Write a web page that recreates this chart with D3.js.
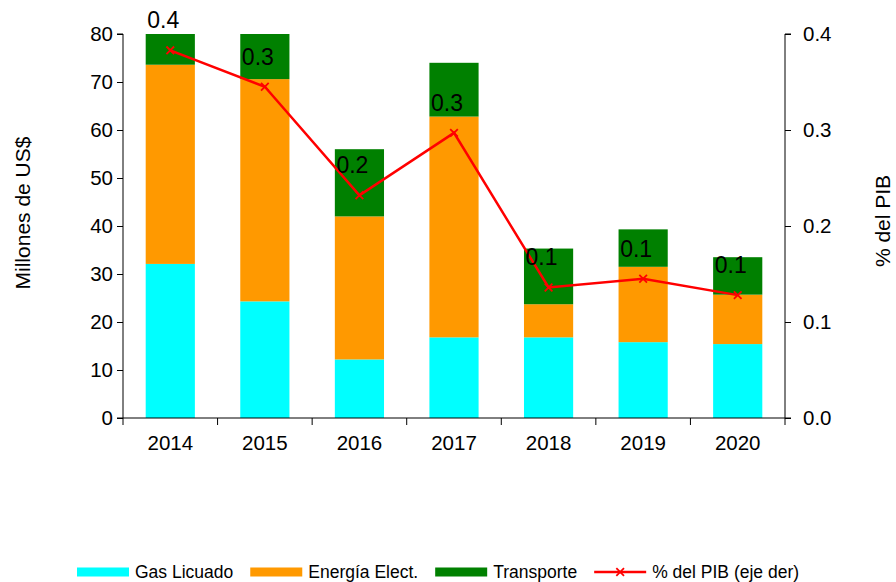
<!DOCTYPE html>
<html>
<head>
<meta charset="utf-8">
<script src="https://cdn.jsdelivr.net/npm/d3@7"></script>
<style>
  body { margin: 0; background: #fff; }
  svg text { font-family: "Liberation Sans", Arial, sans-serif; fill: #000; }
</style>
</head>
<body>
<div id="chart"></div>
<script>
// data
var years = ["2014", "2015", "2016", "2017", "2018", "2019", "2020"];
var gasLicuado = [32.1, 24.3, 12.2, 16.8, 16.8, 15.8, 15.4];
var energiaElect = [41.5, 46.3, 29.8, 46.0, 6.9, 15.7, 10.3];
var transporte = [6.4, 9.4, 14.0, 11.2, 11.6, 7.8, 7.8];
var pibPct = [0.383, 0.345, 0.232, 0.297, 0.136, 0.145, 0.128];
var pibLabels = ["0.4", "0.3", "0.2", "0.3", "0.1", "0.1", "0.1"];
var leftTicks = [0, 10, 20, 30, 40, 50, 60, 70, 80];
var rightTicks = [0, 0.1, 0.2, 0.3, 0.4];

var seriesNames = ["Gas Licuado", "Energía Elect.", "Transporte"];
var seriesColors = ["#00FFFF", "#FF9900", "#008000"];
var lineColor = "#FF0000";

var width = 896, height = 582;
var plot = {left: 123, right: 785, top: 34, bottom: 418};

var svg = d3.select("#chart").append("svg")
  .attr("width", width)
  .attr("height", height);

var x = d3.scaleBand()
  .domain(years)
  .range([plot.left, plot.right])
  .paddingInner(0.48)
  .paddingOuter(0.24);

var y = d3.scaleLinear().domain([0, 80]).range([plot.bottom, plot.top]);
var y2 = d3.scaleLinear().domain([0, 0.4]).range([plot.bottom, plot.top]);

// build rows for the stack
var rows = years.map(function(yr, i) {
  return {year: yr, "Gas Licuado": gasLicuado[i], "Energía Elect.": energiaElect[i], "Transporte": transporte[i]};
});
var stacked = d3.stack().keys(seriesNames)(rows);

svg.append("g").selectAll("g")
  .data(stacked)
  .enter().append("g")
    .attr("fill", function(d, i) { return seriesColors[i]; })
  .selectAll("rect")
  .data(function(d) { return d; })
  .enter().append("rect")
    .attr("x", function(d) { return x(d.data.year); })
    .attr("width", x.bandwidth())
    .attr("y", function(d) { return y(d[1]); })
    .attr("height", function(d) { return y(d[0]) - y(d[1]); });

// left axis
var leftAxis = svg.append("g")
  .attr("transform", "translate(" + plot.left + ",0)")
  .call(d3.axisLeft(y).tickValues(leftTicks).tickSize(6).tickPadding(4));
// right axis
var rightAxis = svg.append("g")
  .attr("transform", "translate(" + plot.right + ",0)")
  .call(d3.axisRight(y2).tickValues(rightTicks).tickFormat(d3.format(".1f")).tickSize(6).tickPadding(12));
// bottom axis: labels under bars, ticks between categories
var bottomAxis = svg.append("g")
  .attr("transform", "translate(0," + plot.bottom + ")")
  .call(d3.axisBottom(x).tickSize(0).tickPadding(17));
bottomAxis.select(".domain").attr("d", "M" + plot.left + ",0H" + plot.right);

var boundaries = d3.range(years.length + 1).map(function(i) { return plot.left + i * x.step(); });
bottomAxis.selectAll(".sep")
  .data(boundaries)
  .enter().append("line")
    .attr("x1", function(d) { return d; })
    .attr("x2", function(d) { return d; })
    .attr("y1", 0)
    .attr("y2", 7)
    .attr("stroke", "#000");

[leftAxis, rightAxis, bottomAxis].forEach(function(g) {
  g.selectAll("text").style("font-size", "20.5px").attr("fill", "#000");
  g.selectAll("line").attr("stroke", "#000");
  g.select(".domain").attr("stroke", "#000");
});
leftAxis.select(".domain").attr("d", "M-6," + plot.top + "H0V" + plot.bottom + "H-6");
rightAxis.select(".domain").attr("d", "M6," + plot.top + "H0V" + plot.bottom + "H6");

// axis titles
svg.append("text")
  .attr("transform", "translate(22,213) rotate(-90)")
  .attr("text-anchor", "middle")
  .attr("dominant-baseline", "central")
  .style("font-size", "21px")
  .text("Millones de US$");
svg.append("text")
  .attr("transform", "translate(882,221) rotate(-90)")
  .attr("text-anchor", "middle")
  .attr("dominant-baseline", "central")
  .style("font-size", "21px")
  .text("% del PIB");

// % del PIB line
var line = d3.line()
  .x(function(d, i) { return x(years[i]) + x.bandwidth() / 2; })
  .y(function(d) { return y2(d); });

svg.append("path")
  .datum(pibPct)
  .attr("d", line)
  .attr("fill", "none")
  .attr("stroke", lineColor)
  .attr("stroke-width", 2.5);

var crossSym = d3.symbol().type(d3.symbolX).size(40);
svg.append("g").selectAll("path")
  .data(pibPct)
  .enter().append("path")
    .attr("transform", function(d, i) { return "translate(" + (x(years[i]) + x.bandwidth() / 2) + "," + y2(d) + ")"; })
    .attr("d", crossSym)
    .attr("fill", "none")
    .attr("stroke", lineColor)
    .attr("stroke-width", 1.8);

// data labels
svg.append("g").selectAll("text")
  .data(pibPct)
  .enter().append("text")
    .attr("x", function(d, i) { return x(years[i]) + x.bandwidth() / 2 - 7; })
    .attr("y", function(d) { return y2(d) - 30; })
    .attr("text-anchor", "middle")
    .attr("dominant-baseline", "central")
    .style("font-size", "23px")
    .text(function(d, i) { return pibLabels[i]; });

// legend
var legend = svg.append("g").attr("transform", "translate(77,572)");
var cursor = 0;
var legendItems = seriesNames.concat(["% del PIB (eje der)"]);
legendItems.forEach(function(name, i) {
  var g = legend.append("g").attr("transform", "translate(" + cursor + ",0)");
  if (i < seriesNames.length) {
    g.append("rect")
      .attr("x", 0).attr("y", -4.5)
      .attr("width", 52).attr("height", 9)
      .attr("fill", seriesColors[i]);
  } else {
    g.append("line")
      .attr("x1", 0).attr("x2", 52).attr("y1", 0).attr("y2", 0)
      .attr("stroke", lineColor).attr("stroke-width", 2.5);
    g.append("path")
      .attr("transform", "translate(26,0)")
      .attr("d", crossSym)
      .attr("fill", "none")
      .attr("stroke", lineColor)
      .attr("stroke-width", 1.8);
  }
  var t = g.append("text")
    .attr("x", 58)
    .attr("y", 0)
    .attr("dominant-baseline", "central")
    .style("font-size", "17.5px")
    .text(name);
  cursor += 58 + t.node().getComputedTextLength() + 17;
});
</script>
</body>
</html>
